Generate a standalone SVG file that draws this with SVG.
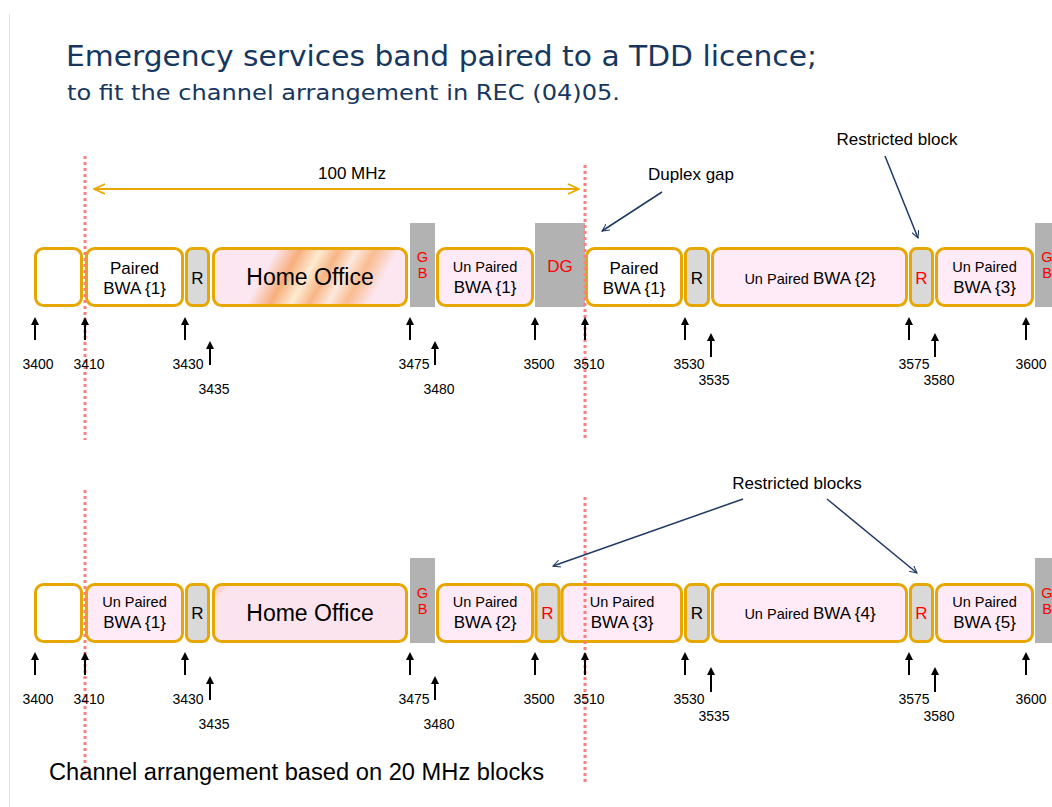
<svg xmlns="http://www.w3.org/2000/svg" width="1052" height="807" viewBox="0 0 1052 807">
<style>
text{font-family:"Liberation Sans",Arial,sans-serif;fill:#000}
.box{stroke:#E6A800;stroke-width:3}
.wh{fill:#fff}
.pk{fill:#FFEAF8}
.ho{fill:#FCE4EE}
.rg{fill:#D9D9D9}
.gb{fill:#B2B2B2}
.t17{font-size:17px;text-anchor:middle}
.t14{font-size:14.5px;text-anchor:middle}
.t23{font-size:23px;text-anchor:middle}
.red{fill:#FF0000}
.tk{stroke:#000;stroke-width:2;marker-end:url(#ah)}
.num{font-size:14px;text-anchor:middle}
.dot{stroke:#FF7C80;stroke-width:3;stroke-dasharray:3 3;fill:none}
.call{stroke:#1F3864;stroke-width:1.5;fill:none;marker-end:url(#nv)}
.ttl{font-family:"DejaVu Sans",Verdana,sans-serif;fill:#17375E}
</style>
<defs>
<marker id="ah" viewBox="0 0 10 10" refX="5" refY="5" markerWidth="4" markerHeight="4" orient="auto"><path d="M0,0 L10,5 L0,10 z" fill="#000"/></marker>
<marker id="nv" viewBox="0 0 10 10" refX="9" refY="5" markerWidth="8" markerHeight="8" orient="auto" markerUnits="userSpaceOnUse"><path d="M0,0.5 L9,5 L0,9.5" fill="none" stroke="#1F3864" stroke-width="1.3"/></marker>
<marker id="oa" viewBox="0 0 12 12" refX="11" refY="6" markerWidth="12" markerHeight="12" orient="auto-start-reverse" markerUnits="userSpaceOnUse"><path d="M0,1 L11,6 L0,11" fill="none" stroke="#E8A800" stroke-width="1.6"/></marker>
<linearGradient id="hog" gradientUnits="userSpaceOnUse" x1="250" y1="260" x2="450" y2="370">
<stop offset="0" stop-color="#FCE6EF"/>
<stop offset="0.08" stop-color="#FCE6EF"/>
<stop offset="0.17" stop-color="#F7AE7C"/>
<stop offset="0.25" stop-color="#FDEBD2"/>
<stop offset="0.32" stop-color="#F8B584"/>
<stop offset="0.39" stop-color="#FDE8DE"/>
<stop offset="0.46" stop-color="#F9BC90"/>
<stop offset="0.55" stop-color="#FCE6EF"/>
<stop offset="1" stop-color="#FCE6EF"/>
</linearGradient>
<linearGradient id="hog2" gradientUnits="userSpaceOnUse" x1="212" y1="583" x2="236" y2="607">
<stop offset="0" stop-color="#F6B98A"/>
<stop offset="0.45" stop-color="#FCE4EE"/>
<stop offset="1" stop-color="#FCE4EE"/>
</linearGradient>
</defs>
<rect width="1052" height="807" fill="#fff"/>
<line x1="9.5" y1="14" x2="9.5" y2="807" stroke="#FFFF00" stroke-width="1"/>

<g id="title">
<text class="ttl" x="66" y="66" style="font-size:29px" textLength="751" lengthAdjust="spacingAndGlyphs">Emergency services band paired to a TDD licence;</text>
<text class="ttl" x="67" y="100" style="font-size:21px" textLength="553" lengthAdjust="spacingAndGlyphs">to fit the channel arrangement in REC (04)05.</text>
</g>

<!-- TOP ROW -->
<g id="top-row">
<g id="t-gb1"><rect class="gb" x="410" y="223" width="25" height="84"/><text class="t14 red" x="422.5" y="262">G</text><text class="t14 red" x="422.5" y="278">B</text></g>
<g id="t-dg"><rect class="gb" x="535" y="223" width="50" height="84"/><text class="t17 red" x="560" y="272">DG</text></g>
<g id="t-gb2"><rect class="gb" x="1035" y="223" width="25" height="84"/><text class="t14 red" x="1047" y="262">G</text><text class="t14 red" x="1047" y="278">B</text></g>
<g id="t-blank"><rect class="box wh" x="35.5" y="248.5" width="46" height="57" rx="8"/></g>
<g id="t-paired1"><rect class="box wh" x="86.5" y="248.5" width="96" height="57" rx="8"/><text class="t17" x="134.5" y="274">Paired</text><text class="t17" x="134.5" y="294">BWA {1}</text></g>
<g id="t-r1"><rect class="box rg" x="186.5" y="248.5" width="22" height="57" rx="6"/><text class="t17" x="197.5" y="284">R</text></g>
<g id="t-home"><rect class="box" fill="url(#hog)" x="213.5" y="248.5" width="193" height="57" rx="8"/><text class="t23" x="310" y="285">Home Office</text></g>
<g id="t-unpaired1"><rect class="box pk" x="437.5" y="248.5" width="95" height="57" rx="8"/><text class="t14" x="485" y="272">Un Paired</text><text class="t17" x="485" y="293">BWA {1}</text></g>
<g id="t-paired1b"><rect class="box wh" x="586.5" y="248.5" width="95" height="57" rx="8"/><text class="t17" x="634" y="274">Paired</text><text class="t17" x="634" y="294">BWA {1}</text></g>
<g id="t-r2"><rect class="box rg" x="685.5" y="248.5" width="23" height="57" rx="6"/><text class="t17" x="697" y="284">R</text></g>
<g id="t-unpaired2"><rect class="box pk" x="712.5" y="248.5" width="194" height="57" rx="8"/><text x="810" y="284" text-anchor="middle"><tspan style="font-size:14.5px">Un Paired </tspan><tspan style="font-size:17px">BWA {2}</tspan></text></g>
<g id="t-r3"><rect class="box rg" x="910.5" y="248.5" width="22" height="57" rx="6"/><text class="t17 red" x="921.5" y="284">R</text></g>
<g id="t-unpaired3"><rect class="box pk" x="936.5" y="248.5" width="96" height="57" rx="8"/><text class="t14" x="984.5" y="272">Un Paired</text><text class="t17" x="984.5" y="293">BWA {3}</text></g>
</g>

<!-- BOTTOM ROW -->
<g id="bottom-row">
<g id="b-gb1"><rect class="gb" x="410" y="558" width="25" height="85"/><text class="t14 red" x="422.5" y="598">G</text><text class="t14 red" x="422.5" y="614">B</text></g>
<g id="b-gb2"><rect class="gb" x="1035" y="558" width="25" height="85"/><text class="t14 red" x="1047" y="598">G</text><text class="t14 red" x="1047" y="614">B</text></g>
<g id="b-blank"><rect class="box wh" x="35.5" y="584.5" width="46" height="57" rx="8"/></g>
<g id="b-unpaired1"><rect class="box pk" x="86.5" y="584.5" width="96" height="57" rx="8"/><text class="t14" x="134.5" y="607">Un Paired</text><text class="t17" x="134.5" y="628">BWA {1}</text></g>
<g id="b-r1"><rect class="box rg" x="186.5" y="584.5" width="22" height="57" rx="6"/><text class="t17" x="197.5" y="619">R</text></g>
<g id="b-home"><rect class="box" fill="url(#hog2)" x="213.5" y="584.5" width="193" height="57" rx="8"/><text class="t23" x="310" y="621">Home Office</text></g>
<g id="b-unpaired2"><rect class="box pk" x="437.5" y="584.5" width="95" height="57" rx="8"/><text class="t14" x="485" y="607">Un Paired</text><text class="t17" x="485" y="628">BWA {2}</text></g>
<g id="b-r2"><rect class="box rg" x="536" y="584.5" width="23" height="57" rx="6"/><text class="t17 red" x="547.5" y="619">R</text></g>
<g id="b-unpaired3"><rect class="box pk" x="562" y="584.5" width="119.5" height="57" rx="8"/><text class="t14" x="622" y="607">Un Paired</text><text class="t17" x="622" y="628">BWA {3}</text></g>
<g id="b-r3"><rect class="box rg" x="685.5" y="584.5" width="23" height="57" rx="6"/><text class="t17" x="697" y="619">R</text></g>
<g id="b-unpaired4"><rect class="box pk" x="712.5" y="584.5" width="194" height="57" rx="8"/><text x="810" y="619" text-anchor="middle"><tspan style="font-size:14.5px">Un Paired </tspan><tspan style="font-size:17px">BWA {4}</tspan></text></g>
<g id="b-r4"><rect class="box rg" x="910.5" y="584.5" width="22" height="57" rx="6"/><text class="t17 red" x="921.5" y="619">R</text></g>
<g id="b-unpaired5"><rect class="box pk" x="936.5" y="584.5" width="96" height="57" rx="8"/><text class="t14" x="984.5" y="607">Un Paired</text><text class="t17" x="984.5" y="628">BWA {5}</text></g>
</g>

<!-- dotted reference lines -->
<g id="dotted-lines">
<line class="dot" x1="85" y1="156" x2="85" y2="440"/>
<line class="dot" x1="585" y1="165" x2="585" y2="440"/>
<line class="dot" x1="85" y1="490" x2="85" y2="776"/>
<line class="dot" x1="585" y1="497" x2="585" y2="783"/>
</g>

<!-- connectors -->
<g id="connectors">
<line x1="94" y1="189" x2="579" y2="189" stroke="#E8A800" stroke-width="2" marker-start="url(#oa)" marker-end="url(#oa)"/>
<line class="call" x1="662" y1="192" x2="602" y2="231"/>
<line class="call" x1="885" y1="156" x2="918" y2="238"/>
<line class="call" x1="743" y1="499" x2="553" y2="566"/>
<line class="call" x1="827" y1="499" x2="917" y2="573"/>
<!-- top ticks -->
<line class="tk" x1="35" y1="340" x2="35" y2="321"/>
<line class="tk" x1="85" y1="340" x2="85" y2="321"/>
<line class="tk" x1="185" y1="340" x2="185" y2="321"/>
<line class="tk" x1="210" y1="365" x2="210" y2="345"/>
<line class="tk" x1="410" y1="340" x2="410" y2="321"/>
<line class="tk" x1="435" y1="365" x2="435" y2="345"/>
<line class="tk" x1="535" y1="340" x2="535" y2="321"/>
<line class="tk" x1="585" y1="340" x2="585" y2="321"/>
<line class="tk" x1="685" y1="340" x2="685" y2="321"/>
<line class="tk" x1="711" y1="357" x2="711" y2="337"/>
<line class="tk" x1="909" y1="340" x2="909" y2="321"/>
<line class="tk" x1="935" y1="357" x2="935" y2="337"/>
<line class="tk" x1="1026" y1="340" x2="1026" y2="321"/>
<!-- bottom ticks -->
<line class="tk" x1="35" y1="675" x2="35" y2="656"/>
<line class="tk" x1="85" y1="675" x2="85" y2="656"/>
<line class="tk" x1="185" y1="675" x2="185" y2="656"/>
<line class="tk" x1="210" y1="700" x2="210" y2="680"/>
<line class="tk" x1="410" y1="675" x2="410" y2="656"/>
<line class="tk" x1="435" y1="700" x2="435" y2="680"/>
<line class="tk" x1="535" y1="675" x2="535" y2="656"/>
<line class="tk" x1="585" y1="675" x2="585" y2="656"/>
<line class="tk" x1="685" y1="675" x2="685" y2="656"/>
<line class="tk" x1="711" y1="692" x2="711" y2="671"/>
<line class="tk" x1="909" y1="675" x2="909" y2="656"/>
<line class="tk" x1="935" y1="692" x2="935" y2="671"/>
<line class="tk" x1="1026" y1="675" x2="1026" y2="656"/>
</g>

<g id="labels">
<text class="t17" x="352" y="179">100 MHz</text>
<text class="t17" x="691" y="180">Duplex gap</text>
<text class="t17" x="897" y="145">Restricted block</text>
<text class="t17" x="797" y="489">Restricted blocks</text>
<text x="49" y="780" style="font-size:23px" textLength="495" lengthAdjust="spacingAndGlyphs">Channel arrangement based on 20 MHz blocks</text>
</g>

<g id="top-freqs">
<text class="num" x="38" y="369">3400</text>
<text class="num" x="89" y="369">3410</text>
<text class="num" x="188" y="369">3430</text>
<text class="num" x="214" y="394">3435</text>
<text class="num" x="414" y="369">3475</text>
<text class="num" x="439" y="394">3480</text>
<text class="num" x="539" y="369">3500</text>
<text class="num" x="589" y="369">3510</text>
<text class="num" x="689" y="369">3530</text>
<text class="num" x="714" y="385">3535</text>
<text class="num" x="914" y="369">3575</text>
<text class="num" x="939" y="385">3580</text>
<text class="num" x="1031" y="369">3600</text>
</g>
<g id="bottom-freqs">
<text class="num" x="38" y="704">3400</text>
<text class="num" x="89" y="704">3410</text>
<text class="num" x="188" y="704">3430</text>
<text class="num" x="214" y="729">3435</text>
<text class="num" x="414" y="704">3475</text>
<text class="num" x="439" y="729">3480</text>
<text class="num" x="539" y="704">3500</text>
<text class="num" x="589" y="704">3510</text>
<text class="num" x="689" y="704">3530</text>
<text class="num" x="714" y="721">3535</text>
<text class="num" x="914" y="704">3575</text>
<text class="num" x="939" y="721">3580</text>
<text class="num" x="1031" y="704">3600</text>
</g>
</svg>
